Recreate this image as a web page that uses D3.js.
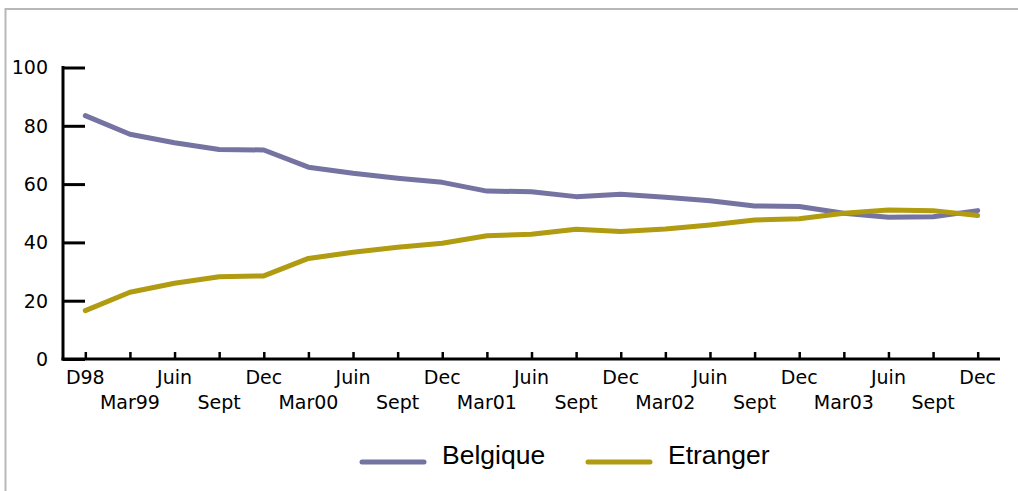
<!DOCTYPE html>
<html>
<head>
<meta charset="utf-8">
<script src="https://cdn.jsdelivr.net/npm/d3@7"></script>
<style>
  html, body { margin: 0; padding: 0; background: #fff; }
  svg { display: block; }
</style>
</head>
<body>
<svg id="chart" width="1018" height="491"></svg>
<script>
// Quarterly periods, Dec 1998 – Dec 2003
const periods = ["D98", "Mar99", "Juin", "Sept", "Dec", "Mar00", "Juin", "Sept", "Dec",
                 "Mar01", "Juin", "Sept", "Dec", "Mar02", "Juin", "Sept", "Dec",
                 "Mar03", "Juin", "Sept", "Dec"];
const belgique = [83.5, 77.1, 74.2, 71.9, 71.7, 65.8, 63.7, 62.0, 60.6, 57.6, 57.4,
                  55.7, 56.5, 55.5, 54.3, 52.5, 52.3, 50.0, 48.6, 48.8, 50.9];
const etranger = [16.6, 22.9, 26.0, 28.2, 28.5, 34.5, 36.6, 38.3, 39.7, 42.3, 42.8,
                  44.5, 43.7, 44.6, 46.0, 47.7, 48.1, 50.0, 51.1, 50.9, 49.2];
const yTicks = [0, 20, 40, 60, 80, 100];
const seriesNames = ["Belgique", "Etranger"];
const seriesColors = ["#7573a1", "#b19b10"];

const svg = d3.select("#chart");

// light frame along the top and left edges
svg.append("line").attr("x1", 5).attr("x2", 1018).attr("y1", 9).attr("y2", 9)
  .attr("stroke", "#b8b8b8").attr("stroke-width", 2);
svg.append("line").attr("x1", 5.5).attr("x2", 5.5).attr("y1", 8).attr("y2", 491)
  .attr("stroke", "#b8b8b8").attr("stroke-width", 2);

const plotLeft = 63, plotRight = 1000, plotTop = 67.5, plotBottom = 359;
const idx = d3.range(periods.length);

const x = d3.scalePoint().domain(idx).range([plotLeft, plotRight]).padding(0.5);
const y = d3.scaleLinear().domain([0, 100]).range([plotBottom, plotTop]);

const font = "'DejaVu Sans', sans-serif";

// y axis: ticks point inward
const yAxis = svg.append("g").attr("transform", `translate(${plotLeft},0)`)
  .call(d3.axisRight(y).tickValues(yTicks).tickSize(22).tickFormat(() => ""));
yAxis.select(".domain").remove();
yAxis.selectAll(".tick line").attr("stroke", "#000").attr("stroke-width", 3);
svg.append("line").attr("x1", plotLeft).attr("x2", plotLeft)
  .attr("y1", plotTop - 1.5).attr("y2", plotBottom + 1.5)
  .attr("stroke", "#000").attr("stroke-width", 3);
svg.append("g").selectAll("text").data(yTicks).join("text")
  .attr("x", 48).attr("y", d => y(d)).attr("dy", "0.36em")
  .attr("text-anchor", "end").attr("font-family", font).attr("font-size", 19)
  .attr("fill", "#000").text(d => d);

// x axis: ticks point up, labels staggered on two rows
const xAxis = svg.append("g").attr("transform", `translate(0,${plotBottom})`)
  .call(d3.axisTop(x).tickSize(7).tickFormat(() => ""));
xAxis.select(".domain").remove();
xAxis.selectAll(".tick line").attr("stroke", "#000").attr("stroke-width", 2.5);
svg.append("line").attr("x1", plotLeft - 1.5).attr("x2", plotRight)
  .attr("y1", plotBottom).attr("y2", plotBottom)
  .attr("stroke", "#000").attr("stroke-width", 3);
svg.append("g").selectAll("text").data(idx).join("text")
  .attr("x", i => x(i)).attr("y", i => i % 2 === 0 ? 384 : 409)
  .attr("text-anchor", "middle").attr("font-family", font).attr("font-size", 19)
  .attr("fill", "#000").text(i => periods[i]);

// series lines
const line = d3.line().x((d, i) => x(i)).y(d => y(d));
[belgique, etranger].forEach((vals, k) => {
  svg.append("path").datum(vals).attr("d", line)
    .attr("fill", "none").attr("stroke", seriesColors[k]).attr("stroke-width", 5)
    .attr("stroke-linejoin", "round").attr("stroke-linecap", "round");
});

// legend
const legendX = [362, 588];
seriesNames.forEach((name, k) => {
  const g = svg.append("g").attr("transform", `translate(${legendX[k]},462)`);
  g.append("line").attr("x1", 0).attr("x2", 62).attr("y1", 0).attr("y2", 0)
    .attr("stroke", seriesColors[k]).attr("stroke-width", 5).attr("stroke-linecap", "round");
  g.append("text").attr("x", 80).attr("y", 1.5)
    .attr("font-family", "'Liberation Sans', Arial, sans-serif").attr("font-size", 26.5)
    .attr("fill", "#000").text(name);
});
</script>
</body>
</html>
